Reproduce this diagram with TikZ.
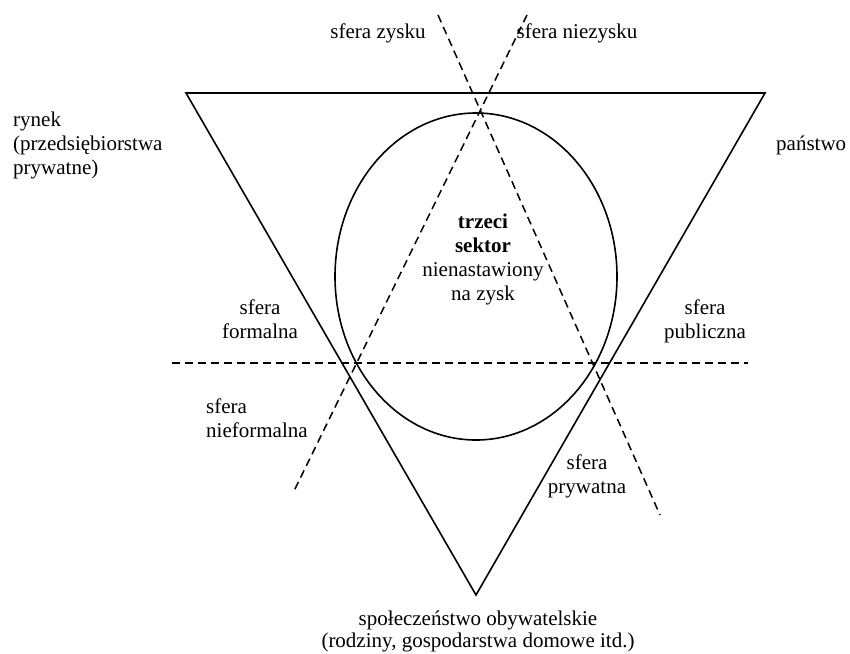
\documentclass[tikz,border=0pt]{standalone}
\usepackage{fontspec}
\setmainfont{Liberation Serif}
\usetikzlibrary{shapes.geometric}
\begin{document}
\begin{tikzpicture}[x=1pt,y=-1pt,
  solidline/.style={line width=1.6pt,line join=miter},
  dashline/.style={line width=1.5pt,dash pattern=on 8pt off 5pt},
  lbl/.style={inner sep=0pt,font=\fontsize{21}{24}\selectfont,anchor=base},
  lblc/.style={lbl,align=center},
  lbll/.style={lbl,align=left,anchor=base west}]
\useasboundingbox (0,0) rectangle (850,653);
% triangle
\coordinate (TL) at (186,93);
\coordinate (TR) at (765,93);
\coordinate (B) at (476,595);
\draw[solidline] (TL) -- (TR) -- (B) -- cycle;
% ellipse
\node[draw,line width=1.6pt,ellipse,minimum width=282pt,minimum height=327pt,inner sep=0pt] (E) at (476,276.5) {};
% dashed lines
\coordinate (D1a) at (438,15);
\coordinate (D1b) at (660,515);
\coordinate (D2a) at (527,15);
\coordinate (D2b) at (293,493);
\coordinate (Ha) at (172,363);
\coordinate (Hb) at (748,363);
\draw[dashline] (D1a) -- (D1b);
\draw[dashline] (D2a) -- (D2b);
\draw[dashline] (Ha) -- (Hb);
% labels (base = baseline of the last line)
\node[lbl] (zysk) at (378,38) {sfera zysku};
\node[lbl] (niezysk) at (577,38) {sfera niezysku};
\node[lbll] (rynek) at (13,174) {rynek\\(przedsiębiorstwa\\prywatne)};
\node[lbll] (panstwo) at (776,150) {państwo};
\node[lblc] (trzeci) at (483,300) {\textbf{trzeci}\\\textbf{sektor}\\nienastawiony\\na zysk};
\node[lblc] (formalna) at (260,338) {sfera\\formalna};
\node[lblc] (publiczna) at (705,338) {sfera\\publiczna};
\node[lbll] (nieformalna) at (206,437) {sfera\\nieformalna};
\node[lblc] (prywatna) at (587,493) {sfera\\prywatna};
\node[lblc,font=\fontsize{21}{22}\selectfont] (spol) at (478,647) {społeczeństwo obywatelskie\\(rodziny, gospodarstwa domowe itd.)};
\end{tikzpicture}
\end{document}
